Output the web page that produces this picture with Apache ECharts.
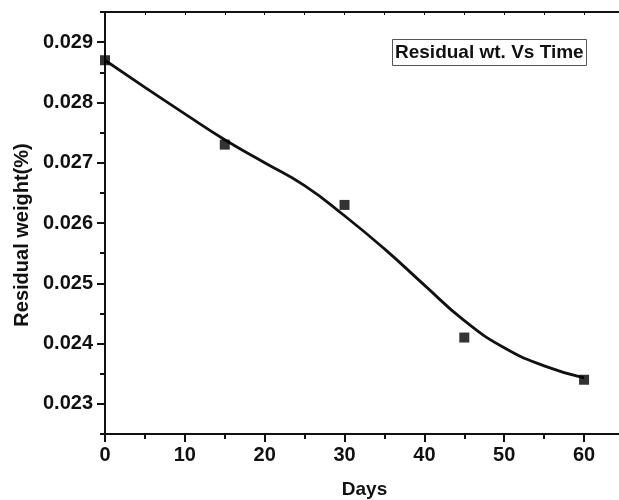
<!DOCTYPE html>
<html>
<head>
<meta charset="utf-8">
<script src="https://cdn.jsdelivr.net/npm/echarts@6/dist/echarts.min.js"></script>
<style>
  html, body { margin: 0; padding: 0; background: #fff; }
  #view { width: 619px; height: 500px; }
</style>
</head>
<body>
<div id="view"></div>
<script>
// measured points (squares)
let pointDays = [0, 15, 30, 45, 60];
let pointValues = [0.0287, 0.0273, 0.0263, 0.0241, 0.0234];

// fitted curve, every 5 days
let curveDays = [0, 5, 10, 15, 20, 25, 30, 35, 40, 45, 50, 55, 60];
let curveValues = [0.02870, 0.02825, 0.02781, 0.02738, 0.02700, 0.02662, 0.02612,
  0.02557, 0.02497, 0.02438, 0.02393, 0.02363, 0.02343];

// tick values
let xMajorTicks = [0, 10, 20, 30, 40, 50, 60];
let xMinorTicks = [5, 15, 25, 35, 45, 55];
let xTopTicks = [0, 5, 10, 15, 20, 25, 30, 35, 40, 45, 50, 55, 60];
let yMajorTicks = [0.023, 0.024, 0.025, 0.026, 0.027, 0.028, 0.029];
let yMinorTicks = [0.0225, 0.0235, 0.0245, 0.0255, 0.0265, 0.0275, 0.0285, 0.0295];

let titleText = "Residual wt. Vs Time";
let xName = "Days";
let yName = "Residual weight(%)";

let font = "Liberation Sans, Arial, sans-serif";
let ink = "#111";

let myChart = echarts.init(document.getElementById("view"));

let pointData = pointDays.map((d, i) => [d, pointValues[i]]);
let curveData = curveDays.map((d, i) => [d, curveValues[i]]);

let xBase = { type: "value", min: 0, max: 65, gridIndex: 0 };
let yBase = { type: "value", min: 0.0225, max: 0.0295, gridIndex: 0 };

let option = {
  backgroundColor: "#fff",
  animation: false,
  title: {
    text: titleText,
    left: 392,
    top: 39,
    padding: [4, 3, 4, 3],
    borderColor: "#555",
    borderWidth: 1,
    textStyle: { fontFamily: font, fontWeight: "bold", fontSize: 19, color: ink },
  },
  grid: {
    left: 105,
    top: 12,
    right: -5,
    bottom: 66,
    containLabel: false,
    outerBoundsMode: "none",
  },
  xAxis: [
    Object.assign({}, xBase, {
      position: "bottom",
      name: xName,
      nameLocation: "middle",
      nameGap: 46,
      nameTextStyle: { fontFamily: font, fontWeight: "bold", fontSize: 19, color: ink },
      axisLine: { show: true, lineStyle: { color: ink, width: 2 } },
      axisTick: { show: true, length: 8, customValues: xMajorTicks, lineStyle: { color: ink, width: 2 } },
      axisLabel: {
        customValues: xMajorTicks,
        margin: 11,
        fontFamily: font, fontWeight: "bold", fontSize: 20, color: ink,
      },
      splitLine: { show: false },
    }),
    Object.assign({}, xBase, {
      position: "bottom",
      axisLine: { show: false },
      axisTick: { show: true, length: 5, customValues: xMinorTicks, lineStyle: { color: ink, width: 2 } },
      axisLabel: { show: false },
      splitLine: { show: false },
    }),
    Object.assign({}, xBase, {
      position: "top",
      axisLine: { show: true, lineStyle: { color: ink, width: 2 } },
      axisTick: { show: true, inside: true, length: 3, customValues: xTopTicks, lineStyle: { color: ink, width: 1 } },
      axisLabel: { show: false },
      splitLine: { show: false },
    }),
  ],
  yAxis: [
    Object.assign({}, yBase, {
      position: "left",
      name: yName,
      nameLocation: "middle",
      nameGap: 72,
      nameRotate: 90,
      nameTextStyle: {
        fontFamily: font, fontWeight: "bold", fontSize: 20, color: ink,
        padding: [0, 24, 0, 0],
      },
      axisLine: { show: true, lineStyle: { color: ink, width: 2 } },
      axisTick: { show: true, length: 8, customValues: yMajorTicks, lineStyle: { color: ink, width: 2 } },
      axisLabel: {
        customValues: yMajorTicks,
        margin: 12,
        formatter: (v) => v.toFixed(3),
        fontFamily: font, fontWeight: "bold", fontSize: 20, color: ink,
      },
      splitLine: { show: false },
    }),
    Object.assign({}, yBase, {
      position: "left",
      axisLine: { show: false },
      axisTick: { show: true, length: 5, customValues: yMinorTicks, lineStyle: { color: ink, width: 2 } },
      axisLabel: { show: false },
      splitLine: { show: false },
    }),
  ],
  series: [
    {
      name: "fit",
      type: "line",
      xAxisIndex: 0,
      yAxisIndex: 0,
      smooth: true,
      showSymbol: false,
      symbol: "none",
      lineStyle: { color: ink, width: 2.8 },
      data: curveData,
      z: 2,
    },
    {
      name: "points",
      type: "scatter",
      xAxisIndex: 0,
      yAxisIndex: 0,
      symbol: "rect",
      symbolSize: 10,
      itemStyle: { color: "#000" },
      data: pointData,
      z: 3,
    },
  ],
};
myChart.setOption(option);
</script>
</body>
</html>
